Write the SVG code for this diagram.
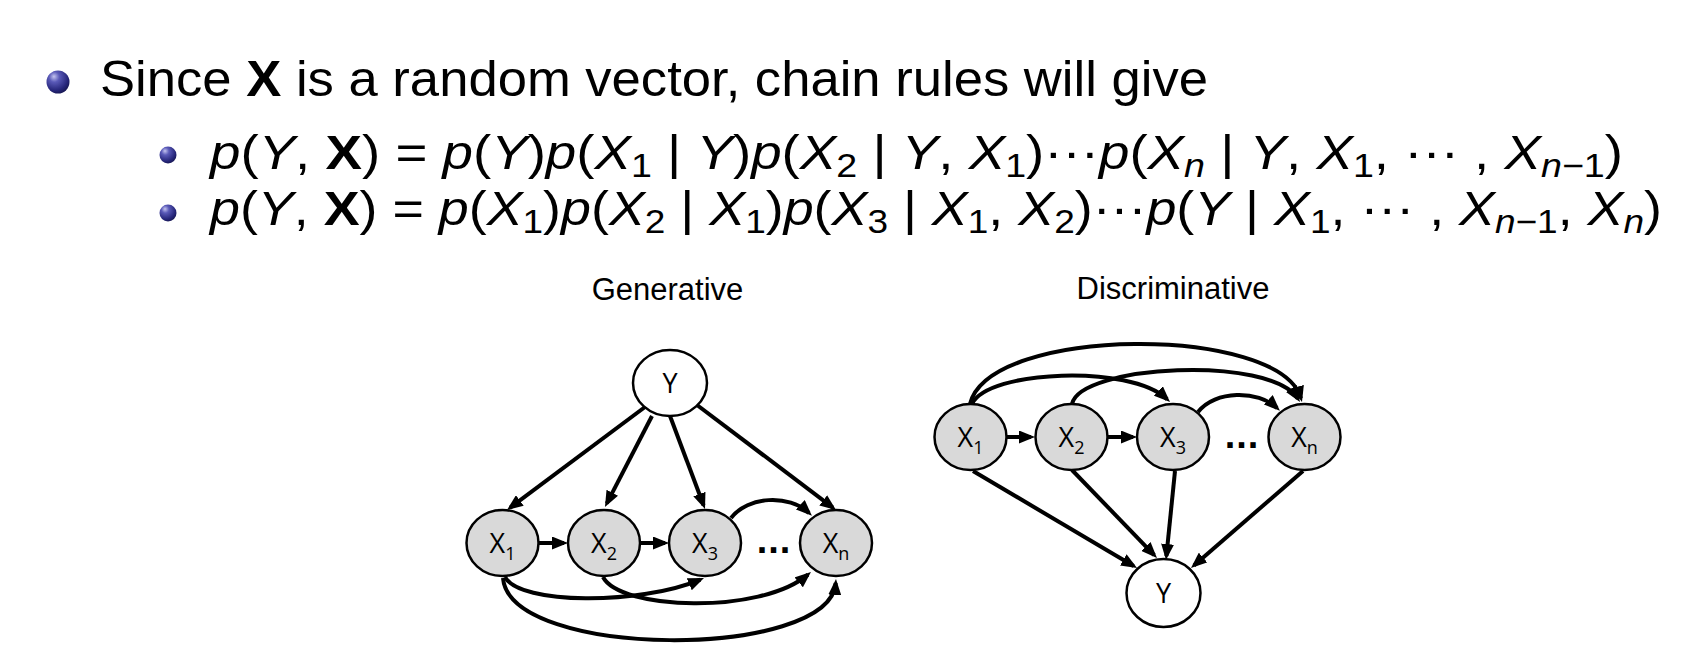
<svg xmlns="http://www.w3.org/2000/svg" width="1695" height="665" viewBox="0 0 1695 665">
<defs>
  <radialGradient id="ball" cx="0.38" cy="0.32" r="0.75" fx="0.32" fy="0.26">
    <stop offset="0" stop-color="#c4c4f0"/>
    <stop offset="0.3" stop-color="#5a5ab8"/>
    <stop offset="0.75" stop-color="#26267a"/>
    <stop offset="1" stop-color="#14144a"/>
  </radialGradient>
  <marker id="ah" markerUnits="userSpaceOnUse" markerWidth="16" markerHeight="13" viewBox="0 0 16 13" refX="12" refY="6.5" orient="auto">
    <path d="M0,0 L16,6.5 L0,13 z" fill="#000"/>
  </marker>
  <style>
    .txt { font-family: "Liberation Sans", Arial, sans-serif; fill: #000; }
    .main { font-size: 50px; }
    .math { font-size: 48px; }
    .it { font-style: italic; }
    .bf { font-weight: bold; }
    .ms { font-size: 33px; }
    .title { font-family: "Liberation Sans", Arial, sans-serif; font-size: 31px; text-anchor: middle; fill: #000; }
    .node { stroke: #000; stroke-width: 2.5; }
    .obs { fill: #d9d9d9; }
    .lat { fill: #ffffff; }
    .lbl { font-family: "Open Sans", "Liberation Sans", sans-serif; font-size: 27px; text-anchor: middle; fill: #000; }
    .sub { font-size: 18px; }
    .dots { font-family: "Liberation Sans", Arial, sans-serif; font-weight: bold; font-size: 38px; letter-spacing: 1px; text-anchor: middle; fill: #000; }
    .edge { fill: none; stroke: #000; stroke-width: 4; marker-end: url(#ah); }
  </style>
</defs>

<g id="bullets">
  <circle cx="58" cy="82" r="11.5" fill="url(#ball)"/>
  <circle cx="168" cy="155" r="8.5" fill="url(#ball)"/>
  <circle cx="168" cy="213" r="8.5" fill="url(#ball)"/>
</g>

<text class="txt main" x="100" y="96" textLength="1108" lengthAdjust="spacingAndGlyphs">Since <tspan class="bf">X</tspan> is a random vector, chain rules will give</text>

<text class="txt math" x="210" y="169" textLength="1413" lengthAdjust="spacingAndGlyphs"><tspan class="it">p</tspan>(<tspan class="it">Y</tspan>, <tspan class="bf">X</tspan>) = <tspan class="it">p</tspan>(<tspan class="it">Y</tspan>)<tspan class="it">p</tspan>(<tspan class="it">X</tspan><tspan class="ms" dy="8">1</tspan><tspan dy="-8"> | </tspan><tspan class="it">Y</tspan>)<tspan class="it">p</tspan>(<tspan class="it">X</tspan><tspan class="ms" dy="8">2</tspan><tspan dy="-8"> | </tspan><tspan class="it">Y</tspan>, <tspan class="it">X</tspan><tspan class="ms" dy="8">1</tspan><tspan dy="-8">)···</tspan><tspan class="it">p</tspan>(<tspan class="it">X</tspan><tspan class="ms it" dy="8">n</tspan><tspan dy="-8"> | </tspan><tspan class="it">Y</tspan>, <tspan class="it">X</tspan><tspan class="ms" dy="8">1</tspan><tspan dy="-8">, ··· , </tspan><tspan class="it">X</tspan><tspan class="ms" dy="8"><tspan class="it">n</tspan>−1</tspan><tspan dy="-8">)</tspan></text>

<text class="txt math" x="210" y="225" textLength="1452" lengthAdjust="spacingAndGlyphs"><tspan class="it">p</tspan>(<tspan class="it">Y</tspan>, <tspan class="bf">X</tspan>) = <tspan class="it">p</tspan>(<tspan class="it">X</tspan><tspan class="ms" dy="8">1</tspan><tspan dy="-8">)</tspan><tspan class="it">p</tspan>(<tspan class="it">X</tspan><tspan class="ms" dy="8">2</tspan><tspan dy="-8"> | </tspan><tspan class="it">X</tspan><tspan class="ms" dy="8">1</tspan><tspan dy="-8">)</tspan><tspan class="it">p</tspan>(<tspan class="it">X</tspan><tspan class="ms" dy="8">3</tspan><tspan dy="-8"> | </tspan><tspan class="it">X</tspan><tspan class="ms" dy="8">1</tspan><tspan dy="-8">, </tspan><tspan class="it">X</tspan><tspan class="ms" dy="8">2</tspan><tspan dy="-8">)···</tspan><tspan class="it">p</tspan>(<tspan class="it">Y</tspan> | <tspan class="it">X</tspan><tspan class="ms" dy="8">1</tspan><tspan dy="-8">, ··· , </tspan><tspan class="it">X</tspan><tspan class="ms" dy="8"><tspan class="it">n</tspan>−1</tspan><tspan dy="-8">, </tspan><tspan class="it">X</tspan><tspan class="ms it" dy="8">n</tspan><tspan dy="-8">)</tspan></text>

<text class="title" x="667.5" y="300">Generative</text>
<text class="title" x="1173" y="299">Discriminative</text>

<g id="connectors">
  <!-- Generative -->
  <path class="edge" d="M645,407 L510.2,507.6"/>
  <path class="edge" d="M652,416 L606.8,503.4"/>
  <path class="edge" d="M670,416 L703.6,505.3"/>
  <path class="edge" d="M697,405 L832.8,507.6"/>
  <path class="edge" d="M538.5,543 L564,543"/>
  <path class="edge" d="M640,543 L665,543"/>
  <path class="edge" d="M731,518 C 748,496 789,494 809,513"/>
  <path class="edge" d="M505,577 C 520,605 640,605 700.3,579.6"/>
  <path class="edge" d="M603,577 C 620,610 760,615 807.9,574.6"/>
  <path class="edge" d="M503,578 C 510,660 830,660 835.7,583"/>
  <!-- Discriminative -->
  <path class="edge" d="M1007,437 L1031,437"/>
  <path class="edge" d="M1108,437 L1133,437"/>
  <path class="edge" d="M1198,412 C 1215,390 1258,390 1277,408"/>
  <path class="edge" d="M972,404 C 988,370 1130,364 1167.1,399.2"/>
  <path class="edge" d="M1072,404 C 1080,365 1270,355 1297.8,398.6"/>
  <path class="edge" d="M970,404 C 990,325 1280,325 1300.9,398.2"/>
  <path class="edge" d="M973,471 L1133.6,566"/>
  <path class="edge" d="M1072,470 L1154.2,555.1"/>
  <path class="edge" d="M1175,471 L1166.4,556"/>
  <path class="edge" d="M1303,471 L1194,565.4"/>
</g>

<g id="gen-Y"><ellipse class="node lat" cx="670" cy="383" rx="37" ry="33"/><text class="lbl" x="670" y="393">Y</text></g>
<g id="gen-X1"><ellipse class="node obs" cx="502.5" cy="543" rx="36" ry="33"/><text class="lbl" x="502.5" y="553">X<tspan class="sub" dy="7">1</tspan></text></g>
<g id="gen-X2"><ellipse class="node obs" cx="604" cy="543" rx="36" ry="33"/><text class="lbl" x="604" y="553">X<tspan class="sub" dy="7">2</tspan></text></g>
<g id="gen-X3"><ellipse class="node obs" cx="705" cy="543" rx="36" ry="33"/><text class="lbl" x="705" y="553">X<tspan class="sub" dy="7">3</tspan></text></g>
<g id="gen-Xn"><ellipse class="node obs" cx="836" cy="543" rx="36" ry="33"/><text class="lbl" x="836" y="553">X<tspan class="sub" dy="7">n</tspan></text></g>
<text class="dots" x="774" y="553">...</text>

<g id="dis-X1"><ellipse class="node obs" cx="970.5" cy="437" rx="36" ry="33"/><text class="lbl" x="970.5" y="447">X<tspan class="sub" dy="7">1</tspan></text></g>
<g id="dis-X2"><ellipse class="node obs" cx="1071.5" cy="437" rx="36" ry="33"/><text class="lbl" x="1071.5" y="447">X<tspan class="sub" dy="7">2</tspan></text></g>
<g id="dis-X3"><ellipse class="node obs" cx="1173" cy="437" rx="36" ry="33"/><text class="lbl" x="1173" y="447">X<tspan class="sub" dy="7">3</tspan></text></g>
<g id="dis-Xn"><ellipse class="node obs" cx="1304.5" cy="437" rx="36" ry="33"/><text class="lbl" x="1304.5" y="447">X<tspan class="sub" dy="7">n</tspan></text></g>
<g id="dis-Y"><ellipse class="node lat" cx="1163.5" cy="593" rx="37" ry="34"/><text class="lbl" x="1163.5" y="603">Y</text></g>
<text class="dots" x="1242" y="448">...</text>
</svg>
